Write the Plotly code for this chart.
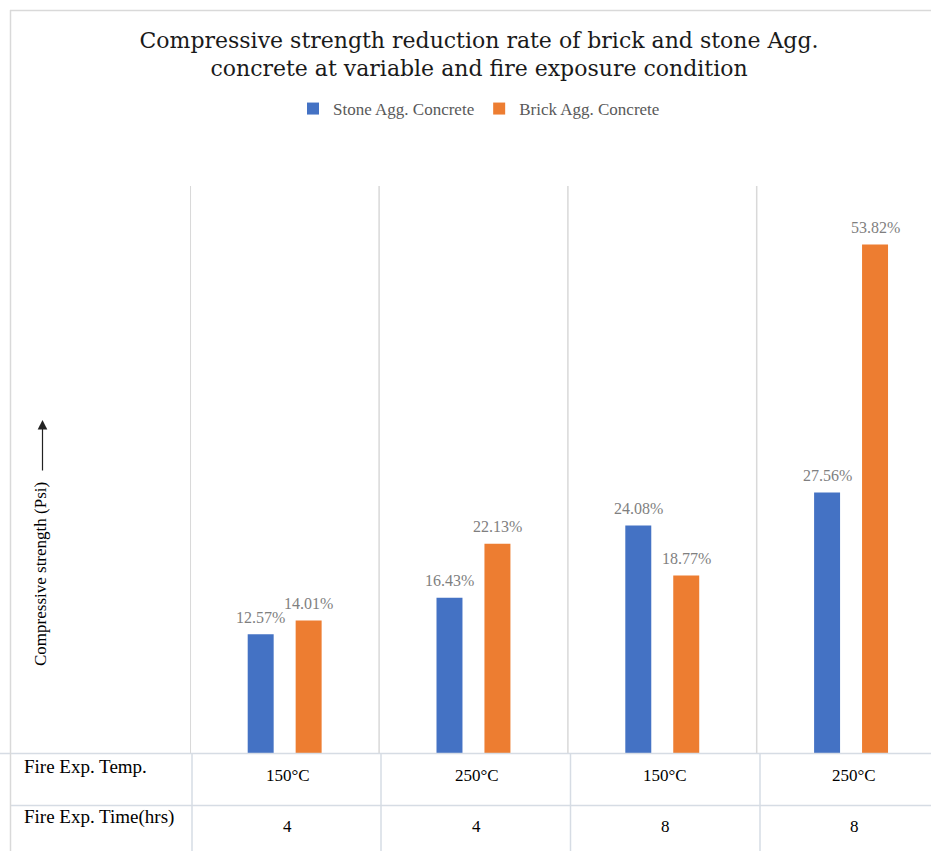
import plotly.graph_objects as go

# ---- data ----
categories = [0, 1, 2, 3]
fire_temp = ["150°C", "250°C", "150°C", "250°C"]
fire_time = ["4", "4", "8", "8"]
stone_vals = [12.57, 16.43, 24.08, 27.56]
brick_vals = [14.01, 22.13, 18.77, 53.82]
series_names = ["Stone Agg. Concrete", "Brick Agg. Concrete"]
row_labels = ["Fire Exp. Temp.", "Fire Exp. Time(hrs)"]

W, H = 931, 851
L, R, T, B = 190, 0, 186, 98
PW, PH = W - L - R, H - T - B
CW = 188.8  # pixel width of one category
x0 = -0.5 - 0.3 / CW
x1 = x0 + PW / CW

def px(p):
    return (p - L) / PW

def py(p):
    return (H - B - p) / PH

BAR_W = 0.1376
OFFS = [-0.196, 0.058]
COLORS = ["#4472C4", "#ED7D31"]
SERIF = "Liberation Serif, Times New Roman, serif"

fig = go.Figure()
for name, vals, off, col in zip(series_names, [stone_vals, brick_vals], OFFS, COLORS):
    fig.add_trace(go.Bar(
        x=categories, y=vals, name=name, width=BAR_W, offset=off,
        marker=dict(color=col, line=dict(width=0)), hoverinfo="skip",
    ))

annotations = []
# data labels
for vals, off in zip([stone_vals, brick_vals], OFFS):
    for c, v in zip(categories, vals):
        annotations.append(dict(
            x=c + off + BAR_W / 2, y=v, xref="x", yref="y", text=f"{v:.2f}%",
            showarrow=False, yanchor="middle", yshift=17,
            font=dict(family=SERIF, size=16, color="#7f7f7f"),
        ))
# table values
for c, t, h in zip(categories, fire_temp, fire_time):
    annotations.append(dict(x=c, y=py(775), xref="x", yref="paper", text=t, xshift=3,
                            showarrow=False, yanchor="middle",
                            font=dict(family=SERIF, size=17, color="#000000")))
    annotations.append(dict(x=c, y=py(826), xref="x", yref="paper", text=h, xshift=3,
                            showarrow=False, yanchor="middle",
                            font=dict(family=SERIF, size=17, color="#000000")))
# row labels
for lab, yy in zip(row_labels, [766, 817]):
    annotations.append(dict(x=px(22), y=py(yy), xref="paper", yref="paper", text=lab,
                            showarrow=False, xanchor="left", yanchor="middle",
                            font=dict(family=SERIF, size=19, color="#000000")))
# y label
annotations.append(dict(x=px(40), y=py(574), xref="paper", yref="paper",
                        text="Compressive strength (Psi)", textangle=-90, showarrow=False,
                        xanchor="center", yanchor="middle",
                        font=dict(family=SERIF, size=17, color="#000000")))
# arrow
annotations.append(dict(x=px(42.5), y=py(420), xref="paper", yref="paper", text="",
                        showarrow=True, ax=0, ay=52, arrowhead=2, arrowsize=1.6,
                        arrowwidth=1.2, arrowcolor="#222222"))

shapes = []
GRID = "#d9d9d9"
TAB = "#d6dce4"
# plot gridlines at category boundaries
for c in categories:
    shapes.append(dict(type="line", xref="x", yref="paper", x0=c - 0.5, x1=c - 0.5,
                       y0=0, y1=1, line=dict(color=GRID, width=1.5)))
# table lines
shapes.append(dict(type="line", xref="paper", yref="paper", x0=px(0), x1=px(W),
                   y0=py(753.5), y1=py(753.5), line=dict(color=TAB, width=1.5)))
shapes.append(dict(type="line", xref="paper", yref="paper", x0=px(10), x1=px(W),
                   y0=py(805.5), y1=py(805.5), line=dict(color=TAB, width=1.5)))
for xp in [192, 381, 570.5, 760]:
    shapes.append(dict(type="line", xref="paper", yref="paper", x0=px(xp), x1=px(xp),
                       y0=py(753.5), y1=py(H), line=dict(color=TAB, width=1.5)))
# outer frame
shapes.append(dict(type="line", xref="paper", yref="paper", x0=px(10.5), x1=px(10.5),
                   y0=py(10), y1=py(H), line=dict(color=GRID, width=1.5)))
shapes.append(dict(type="line", xref="paper", yref="paper", x0=px(10), x1=px(W),
                   y0=py(10.5), y1=py(10.5), line=dict(color=GRID, width=1.5)))

fig.update_layout(
    width=W, height=H,
    margin=dict(l=L, r=R, t=T, b=B, pad=0),
    paper_bgcolor="white", plot_bgcolor="white",
    barmode="overlay",
    title=dict(
        text="Compressive strength reduction rate of brick and stone Agg.<br>concrete at variable and fire exposure condition",
        xref="container", yref="container", x=479 / W, y=1 - 47.5 / H,
        xanchor="center", yanchor="middle",
        font=dict(family="DejaVu Serif, serif", size=22, color="#1a1a1a"),
    ),
    legend=dict(orientation="h", xref="container", yref="container",
                x=479 / W, y=1 - 109 / H, xanchor="center", yanchor="middle",
                font=dict(family=SERIF, size=17, color="#595959"),
                itemwidth=30, bgcolor="rgba(0,0,0,0)"),
    xaxis=dict(range=[x0, x1], showgrid=False, zeroline=False, showticklabels=False,
               ticks="", showline=False, fixedrange=True),
    yaxis=dict(range=[0, 60], showgrid=False, zeroline=False, showticklabels=False,
               ticks="", showline=False, fixedrange=True),
    annotations=annotations, shapes=shapes,
    showlegend=True,
)

fig.write_html("out.html")
